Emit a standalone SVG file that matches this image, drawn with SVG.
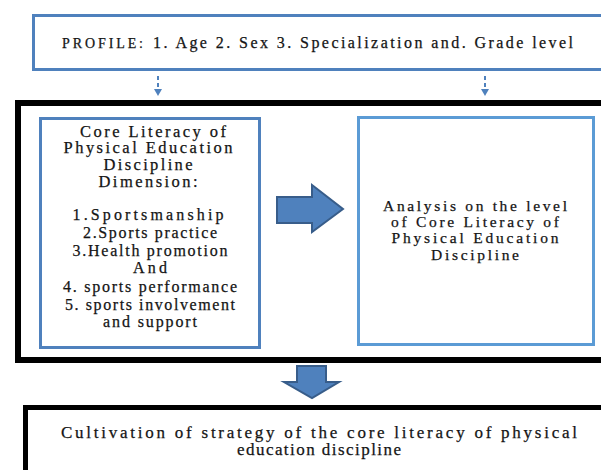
<svg xmlns="http://www.w3.org/2000/svg" width="601" height="470" viewBox="0 0 601 470">
<style>
text{font-family:"Liberation Serif","Times New Roman",serif;fill:#141414;stroke:#141414;stroke-width:0.25;}
.t{font-size:16px;text-anchor:middle;}
.blue{fill:none;stroke:#4f81bd;stroke-width:3;}
.lblue{fill:none;stroke:#5b9bd5;stroke-width:3;}
.black{fill:none;stroke:#000;}
.bigarrow{fill:#4f81bd;stroke:#385d8a;stroke-width:2;stroke-linejoin:miter;}
.dash{stroke:#4f81bd;stroke-width:2;stroke-dasharray:4 3;fill:none;}
.head{fill:#4f81bd;}
</style>
<rect width="601" height="470" fill="#fff"/>
<g id="profile">
<rect class="blue" x="33.5" y="15.5" width="600" height="54"/>
<text x="62" y="48" style="font-size:14px" textLength="81" lengthAdjust="spacing">PROFILE:</text>
<text x="153" y="48" style="font-size:16px" textLength="420" lengthAdjust="spacing">1. Age 2. Sex 3. Specialization and. Grade level</text>
</g>
<g id="connectors">
<line class="dash" x1="158" y1="76" x2="158" y2="89"/>
<polygon class="head" points="154,89 162,89 158,96"/>
<line class="dash" x1="485" y1="76" x2="485" y2="89"/>
<polygon class="head" points="481,89 489,89 485,96"/>
<polygon class="bigarrow" points="277,197 312,197 312,185 343,209 312,232 312,223 277,223"/>
<polygon class="bigarrow" points="297,366 326,366 326,382 339,382 312,398 284,382 297,382"/>
</g>
<g id="container">
<rect class="black" stroke-width="6" x="18" y="103" width="620" height="257"/>
</g>
<g id="dimensions">
<rect class="blue" x="40.5" y="118.5" width="219" height="229"/>
<text class="t" style="font-size:16.5px" x="153" y="137" textLength="146" lengthAdjust="spacing">Core Literacy of</text>
<text class="t" style="font-size:16.5px" x="148" y="153" textLength="169" lengthAdjust="spacing">Physical Education</text>
<text class="t" style="font-size:16.5px" x="148" y="170" textLength="89" lengthAdjust="spacing">Discipline</text>
<text class="t" style="font-size:16.5px" x="148" y="187" textLength="99" lengthAdjust="spacing">Dimension:</text>
<text class="t" x="148" y="220" textLength="151" lengthAdjust="spacing">1.Sportsmanship</text>
<text class="t" x="150" y="238" textLength="134" lengthAdjust="spacing">2.Sports practice</text>
<text class="t" x="150" y="256" textLength="155" lengthAdjust="spacing">3.Health promotion</text>
<text class="t" x="150" y="273" textLength="34" lengthAdjust="spacing">And</text>
<text class="t" x="150" y="292" textLength="174" lengthAdjust="spacing">4. sports performance</text>
<text class="t" x="150" y="310" textLength="170" lengthAdjust="spacing">5. sports involvement</text>
<text class="t" x="150" y="327" textLength="94" lengthAdjust="spacing">and support</text>
</g>
<g id="analysis">
<rect class="lblue" x="358.5" y="117.5" width="235" height="227"/>
<text class="t" style="font-size:15.5px" x="475" y="211" textLength="184" lengthAdjust="spacing">Analysis on the level</text>
<text class="t" style="font-size:15.5px" x="475" y="227" textLength="168" lengthAdjust="spacing">of Core Literacy of</text>
<text class="t" style="font-size:15.5px" x="475" y="243" textLength="167" lengthAdjust="spacing">Physical Education</text>
<text class="t" style="font-size:15.5px" x="475" y="260" textLength="88" lengthAdjust="spacing">Discipline</text>
</g>
<g id="cultivation">
<rect class="black" stroke-width="5" x="25.5" y="407.5" width="620" height="100"/>
<text class="t" style="font-size:17px" x="319" y="438" textLength="516" lengthAdjust="spacing">Cultivation of strategy of the core literacy of physical</text>
<text class="t" style="font-size:17px" x="319" y="455" textLength="164" lengthAdjust="spacing">education discipline</text>
</g>
</svg>
